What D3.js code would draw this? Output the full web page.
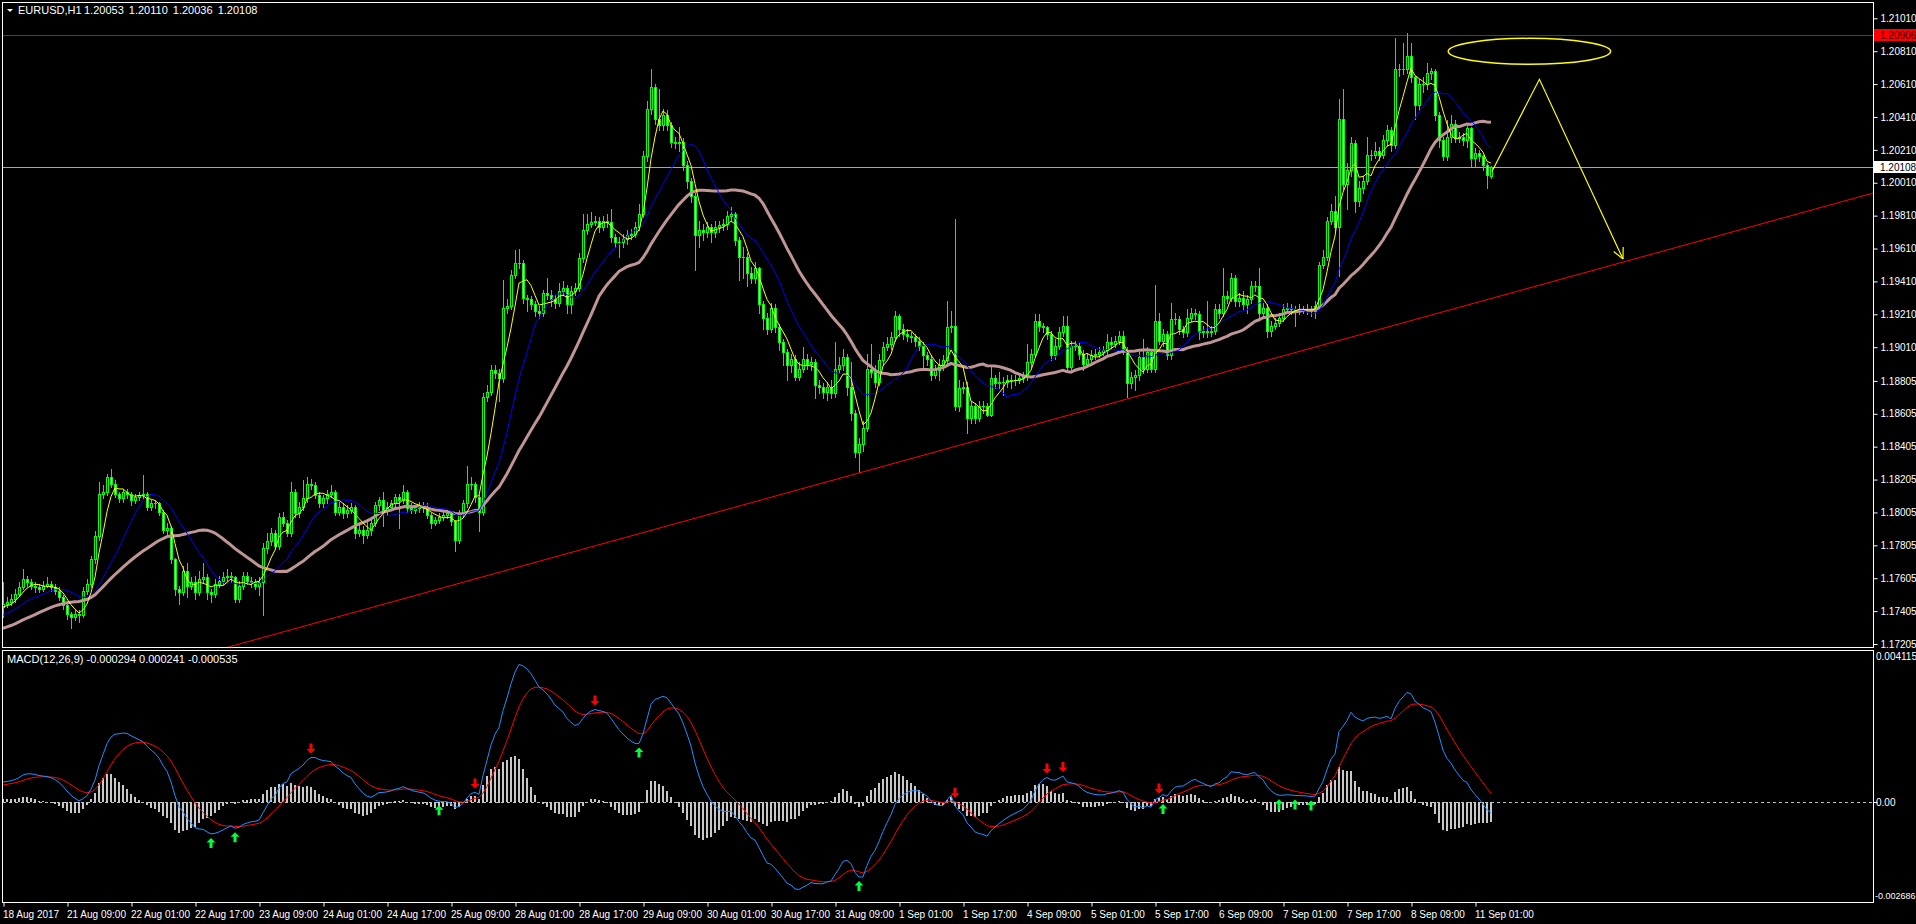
<!DOCTYPE html>
<html><head><meta charset="utf-8">
<script src="https://cdn.jsdelivr.net/npm/d3@7"></script>
<style>
body{margin:0;background:#000;overflow:hidden}
svg{display:block}
text{font-family:'Liberation Sans',Arial,sans-serif;font-size:10px;fill:#fff}
</style></head><body>
<svg id="c" width="1916" height="924"></svg>
<script>
// ---------- DATA (prices in pips above BASE) ----------
const BASE = 1.17, PIP = 0.0001;
const symbolTitle = "EURUSD,H1";
const headerOHLC = [1.20053, 1.20110, 1.20036, 1.20108];
const macdHeader = "MACD(12,26,9) -0.000294 0.000241 -0.000535";
const priceTicks = [1.21010,1.20810,1.20610,1.20410,1.20210,1.20010,1.19810,1.19610,1.19410,1.19210,1.19010,1.18805,1.18605,1.18405,1.18205,1.18005,1.17805,1.17605,1.17405,1.17205];
const macdTicks = [0.004115, 0.00, -0.002686];
const macdTickLabels = ["0.004115", "0.00", "-0.002686"];
const timeTickBars = [0,16,32,48,64,80,96,112,128,144,160,176,192,208,224,240,256,272,288,304,320,336,352,368];
const timeLabels = ["18 Aug 2017","21 Aug 09:00","22 Aug 01:00","22 Aug 17:00","23 Aug 09:00","24 Aug 01:00","24 Aug 17:00","25 Aug 09:00","28 Aug 01:00","28 Aug 17:00","29 Aug 09:00","30 Aug 01:00","30 Aug 17:00","31 Aug 09:00","1 Sep 01:00","1 Sep 17:00","4 Sep 09:00","5 Sep 01:00","5 Sep 17:00","6 Sep 09:00","7 Sep 01:00","7 Sep 17:00","8 Sep 09:00","11 Sep 01:00"];

// closes of the 29 bars before the visible window (needed for the moving averages)
const preCloses = [20,22,19,21,24,23,25,22,20,23,26,24,25,27,24,23,28,31,33,35,34,37,38,40,41,42,44,41,43];

const opens = [
43,45,46,48,51,55,60,58,56,55, 54,56,57,55,53,49,44,39,37,39, 38,53,57,72,86,112,113,122,118,112, 109,113,112,108,110,111,112,104,106,106,
101,90,91,72,54,52,65,56,58,52, 60,61,52,51,57,59,61,62,61,48, 56,62,59,58,56,58,79,83,88,80, 98,94,88,113,100,104,109,118,117,111,
106,109,112,113,101,104,100,102,104,88, 90,87,90,94,105,108,102,104,106,110, 108,113,103,102,103,104,104,99,94,96, 98,99,100,95,84,100,106,118,118,110,
101,171,174,187,185,182,225,226,245,252, 252,231,230,227,223,222,234,233,230,228, 235,237,227,235,237,255,272,276,277,278, 274,278,277,268,265,265,267,269,270,274,
282,317,346,359,340,336,342,336,326,325, 326,312,302,293,269,272,271,274,271,274, 275,276,281,282,266,256,256,246,243,249, 227,219,212,225,213,204,198,190,194,183,
188,194,191,192,178,177,174,177,173,188, 190,195,177,161,137,142,152,188,186,180, 193,201,203,207,220,212,209,208,207,205, 202,196,194,184,187,190,193,213,214,165,
176,177,158,165,158,165,165,160,182,179, 180,180,181,181,181,182,183,192,197,217, 214,213,209,196,202,210,214,189,202,202, 197,191,194,196,197,198,199,204,203,205,
208,199,179,183,184,195,188,198,188,217, 205,209,196,218,218,212,210,219,222,221, 210,211,210,211,224,222,232,231,243,229, 231,227,230,238,238,222,225,211,214,216,
219,224,225,224,223,224,224,224,223,226, 251,256,278,284,274,340,300,309,325,290, 298,302,318,318,320,318,327,333,324,370, 370,370,378,365,348,361,361,368,369,342,
327,317,329,337,328,329,327,334,316,319, 317,312,305.3];
const highs = [
58,49,51,54,58,66,62,60,58,57, 59,61,59,57,55,50,45,40,42,41, 55,60,74,89,119,117,124,127,120,113, 115,115,113,112,113,123,113,108,108,107,
102,94,92,73,56,68,70,61,62,65, 70,63,54,60,62,64,66,64,62,59, 64,64,61,60,61,82,88,91,90,100, 101,96,119,115,107,120,122,121,119,113,
111,114,117,114,107,106,105,106,105,93, 92,95,96,107,110,113,107,108,112,112, 117,114,106,105,107,107,106,100,98,100, 101,102,101,96,102,108,129,122,119,111,
173,178,190,190,188,242,230,248,260,261, 254,233,232,229,226,236,243,236,233,240, 241,239,238,240,258,282,282,283,281,280, 281,282,285,270,268,270,272,273,277,288,
320,351,370,361,358,346,345,338,329,335, 328,314,304,295,278,276,277,276,278,278, 279,284,286,283,268,262,258,250,253,250, 229,222,228,227,215,206,200,197,196,192,
201,197,195,194,181,179,180,181,204,195, 200,197,192,163,146,156,197,203,190,197, 204,207,210,223,221,215,212,210,209,207, 204,198,196,190,194,196,229,223,279,181,
180,180,168,167,168,168,167,189,184,186, 183,184,184,184,185,186,203,200,221,221, 216,214,211,206,213,220,220,205,205,204, 199,197,199,200,201,202,209,207,208,211,
211,201,186,187,198,206,201,200,239,222, 212,211,228,222,220,214,224,225,224,223, 214,229,214,227,227,249,235,246,245,234, 235,233,241,241,249,228,227,217,219,222,
227,228,227,226,227,226,227,226,229,253, 260,280,288,293,352,358,313,329,327,302, 305,329,321,326,323,330,336,335,389,373, 386,392,386,366,364,365,374,371,370,344,
329,339,342,339,332,331,337,335,322,321, 318,313,311];
const lows = [
37,43,44,46,50,54,56,54,52,52, 53,55,53,51,47,42,36,30,35,34, 37,51,55,70,84,109,111,116,110,107, 107,109,105,106,108,109,102,102,103,99,
88,87,70,50,45,50,49,54,48,50, 58,48,46,49,55,57,59,58,46,46, 54,57,55,54,50,38,76,81,78,78, 92,86,86,98,98,102,107,115,109,104,
104,106,110,99,99,97,98,100,85,86, 82,85,87,92,102,92,99,102,104,91, 106,101,100,100,101,101,97,91,93,94, 96,97,93,77,82,98,104,115,107,89,
99,168,172,182,168,180,222,224,243,249, 228,223,224,220,219,220,230,226,225,226, 233,222,222,233,235,253,270,274,275,271, 272,274,265,262,256,262,264,267,268,272,
280,314,343,337,333,333,333,323,322,320, 309,298,289,248,262,266,268,265,268,271, 272,273,278,263,242,243,238,240,240,222, 212,209,210,210,199,190,181,186,181,181,
186,188,187,170,173,170,169,170,171,185, 187,172,157,134,125,138,150,183,177,178, 190,199,200,205,208,206,205,204,202,199, 189,190,181,182,181,187,191,210,163,162,
173,149,155,155,156,161,159,159,176,176, 172,177,176,178,179,180,181,189,195,211, 210,206,193,194,200,208,187,187,199,194, 187,189,192,194,195,196,197,200,201,203,
197,171,176,175,181,185,186,186,186,203, 202,194,194,215,209,207,208,217,218,206, 207,207,208,209,219,220,228,229,226,226, 224,222,228,235,219,219,207,208,212,214,
217,222,221,214,221,222,221,220,219,224, 249,254,276,271,244,297,285,305,283,287, 295,300,315,316,315,316,324,320,322,366, 367,368,362,340,345,356,358,364,339,323,
315,315,326,326,326,324,323,311,311,314, 309,298,303.6];
const closes = [
45,46,48,51,55,60,58,56,55,54, 56,57,55,53,49,44,39,37,39,38, 53,57,72,86,112,113,122,118,112,109, 113,112,108,110,111,112,104,106,106,101,
90,91,72,54,52,65,56,58,52,60, 61,52,51,57,59,61,62,61,48,56, 62,59,58,56,58,79,83,88,80,98, 94,88,113,100,104,109,118,117,111,106,
109,112,113,101,104,100,102,104,88,90, 87,90,94,105,108,102,104,106,110,108, 113,103,102,103,104,104,99,94,96,98, 99,100,95,84,100,106,118,118,110,101,
171,174,187,185,182,225,226,245,252,252, 231,230,227,223,222,234,233,230,228,235, 237,227,235,237,255,272,276,277,278,274, 278,277,268,265,265,267,269,270,274,282,
317,346,359,340,336,342,336,326,325,326, 312,302,293,269,272,271,274,271,274,275, 276,281,282,266,256,256,246,243,249,227, 219,212,225,213,204,198,190,194,183,188,
194,191,192,178,177,174,177,173,188,190, 195,177,161,137,142,152,188,186,180,193, 201,203,207,220,212,209,208,207,205,202, 196,194,184,187,190,193,213,214,165,176,
177,158,165,158,165,165,160,182,179,180, 180,181,181,181,182,183,192,197,217,214, 213,209,196,202,210,214,189,202,202,197, 191,194,196,197,198,199,204,203,205,208,
199,179,183,184,195,188,198,188,217,205, 209,196,218,218,212,210,219,222,221,210, 211,210,211,224,222,232,231,243,229,231, 227,230,238,238,222,225,211,214,216,219,
224,225,224,223,224,224,224,223,226,251, 256,278,284,274,340,300,309,325,290,298, 302,318,318,320,318,327,333,324,370,370, 370,378,365,348,361,361,368,369,342,327,
317,329,337,328,329,327,334,316,319,317, 312,306,310.8];

// MACD cross arrows (bar index)
const upArrowBars = [52,58,109,159,214,290,319,323,327];
const downArrowBars = [77,118,148,238,261,265,289];

// drawn objects: horizontal line, trend line, ellipse and projection path (bar index, price)
const hLinePrice = 1.20906;
const trendAnchors = [[71.75, 1.17290],[374.25, 1.19321]];
const ellipseCenter = [381.6, 1.20809], ellipseRadiusBars = 20.3, ellipseRadiusPips = 7.9;
const projection = [[372.2, 1.20077],[384.1, 1.20639],[405, 1.19546]];

// ---------- LAYOUT ----------
const svg = d3.select('#c');
const RIGHT = 1873, MAIN_T = 2, MAIN_B = 647, MACD_T = 650, MACD_B = 902;
const x = d3.scaleLinear().domain([0, 372]).range([3, 1491]);
const y = d3.scaleLinear().domain([1.21010, 1.17205]).range([18.3, 644]);
const ym = d3.scaleLinear().domain([0.004115, -0.002686]).range([652, 900]);
const P = v => BASE + v * PIP;

svg.append('rect').attr('width',1916).attr('height',924).attr('fill','#000');
const defs = svg.append('defs');
defs.append('clipPath').attr('id','cm').append('rect').attr('x',3).attr('y',MAIN_T+1).attr('width',RIGHT-3).attr('height',MAIN_B-MAIN_T-1);
defs.append('clipPath').attr('id','cd').append('rect').attr('x',3).attr('y',MACD_T+1).attr('width',RIGHT-3).attr('height',MACD_B-MACD_T-1);

const gMain = svg.append('g').attr('clip-path','url(#cm)');
const gMacd = svg.append('g').attr('clip-path','url(#cd)');

// indicators
const all = preCloses.concat(closes), N0 = preCloses.length;
function sma(n){ return closes.map((_,i)=>{ const j=i+N0; let s=0,c=0; for(let k=Math.max(0,j-n+1);k<=j;k++){s+=all[k];c++;} return s/c; }); }
function ema(arr,n){ const a=2/(n+1); let e=arr[0]; return arr.map((v,i)=> (e = i===0 ? v : e + a*(v-e))); }
const ma5 = sma(5), ma14 = sma(14), ma30 = sma(30);
const e12 = ema(all,12), e26 = ema(all,26);
const macdAll = e12.map((v,i)=>(v-e26[i])*PIP);
const sigAll = ema(macdAll,9);
const macd = macdAll.slice(N0), signal = sigAll.slice(N0);
const hist = macd.map((v,i)=>v-signal[i]);

// bid line & horizontal line
gMain.append('line').attr('x1',3).attr('x2',RIGHT).attr('y1',Math.round(y(headerOHLC[3]))+0.5).attr('y2',Math.round(y(headerOHLC[3]))+0.5).attr('stroke','#a0a8b0');
gMain.append('line').attr('x1',3).attr('x2',RIGHT).attr('y1',Math.round(y(hLinePrice))+0.5).attr('y2',Math.round(y(hLinePrice))+0.5).attr('stroke','#e00000');

// candles
const gC = gMain.append('g').attr('shape-rendering','crispEdges');
closes.forEach((c,i)=>{
  const cx = Math.round(x(i));
  const o = opens[i];
  const yh = Math.round(y(P(highs[i]))), yl = Math.round(y(P(lows[i])));
  gC.append('rect').attr('x',cx).attr('y',yh).attr('width',1).attr('height',Math.max(1,yl-yh+1)).attr('fill','#00ff00');
  const yt = Math.round(y(P(Math.max(o,c)))), yb = Math.round(y(P(Math.min(o,c))));
  const h = Math.max(1, yb-yt+1);
  gC.append('rect').attr('x',cx-1).attr('y',yt).attr('width',3).attr('height',h).attr('fill','#00ff00');
  if(h>2) gC.append('rect').attr('x',cx).attr('y',yt+1).attr('width',1).attr('height',h-2).attr('fill', c>=o ? '#000' : '#fff');
});

// moving averages
const lineP = d3.line().x((d,i)=>x(i)).y(d=>y(P(d)));
gMain.append('path').attr('d',lineP(ma30)).attr('fill','none').attr('stroke','#bf9595').attr('stroke-width',3);
gMain.append('path').attr('d',lineP(ma14)).attr('fill','none').attr('stroke','#0000ff').attr('stroke-width',1);
gMain.append('path').attr('d',lineP(ma5)).attr('fill','none').attr('stroke','#ffff00').attr('stroke-width',1);

// trend line (ray)
const slope = (trendAnchors[1][1]-trendAnchors[0][1])/(trendAnchors[1][0]-trendAnchors[0][0]);
const tAt = b => trendAnchors[0][1] + slope*(b-trendAnchors[0][0]);
const bEnd = x.invert(RIGHT);
gMain.append('line').attr('x1',x(0)).attr('y1',y(tAt(0))).attr('x2',x(bEnd)).attr('y2',y(tAt(bEnd))).attr('stroke','#ff0000').attr('stroke-width',1);

// ellipse and projection
gMain.append('ellipse').attr('cx',x(ellipseCenter[0])).attr('cy',y(ellipseCenter[1]))
  .attr('rx',x(ellipseRadiusBars)-x(0)).attr('ry',y(0)-y(ellipseRadiusPips*PIP))
  .attr('fill','none').attr('stroke','#ffff00').attr('stroke-width',1.5);
const projLine = d3.line().x(d=>x(d[0])).y(d=>y(d[1]));
gMain.append('path').attr('d',projLine(projection)).attr('fill','none').attr('stroke','#ffff00').attr('stroke-width',1.2);
{
  const a = projection[1], b = projection[2];
  const x1=x(a[0]),y1=y(a[1]),x2=x(b[0]),y2=y(b[1]);
  const ang = Math.atan2(y2-y1,x2-x1);
  [0.45,-0.45].forEach(d=>{
    gMain.append('line').attr('x1',x2).attr('y1',y2).attr('x2',x2-12*Math.cos(ang+d)).attr('y2',y2-12*Math.sin(ang+d)).attr('stroke','#ffff00').attr('stroke-width',1.2);
  });
}

// MACD panel
const gH = gMacd.append('g').attr('shape-rendering','crispEdges');
hist.forEach((v,i)=>{
  const cx = Math.round(x(i)); const y0 = ym(0), y1 = ym(v);
  gH.append('rect').attr('x',cx-1).attr('y',Math.round(Math.min(y0,y1))).attr('width',2).attr('height',Math.max(1,Math.round(Math.abs(y1-y0)))).attr('fill','#c8c8c8');
});
gMacd.append('line').attr('x1',3).attr('x2',RIGHT).attr('y1',Math.round(ym(0))+0.5).attr('y2',Math.round(ym(0))+0.5).attr('stroke','#c0c0c0').attr('stroke-dasharray','3,3');
const lineM = d3.line().x((d,i)=>x(i)).y(d=>ym(d));
gMacd.append('path').attr('d',lineM(signal)).attr('fill','none').attr('stroke','#ff0000').attr('stroke-width',1);
gMacd.append('path').attr('d',lineM(macd)).attr('fill','none').attr('stroke','#1e90ff').attr('stroke-width',1);
const arrowUp = 'M0,-5L4.5,-0.5L1.5,-0.5L1.5,5L-1.5,5L-1.5,-0.5L-4.5,-0.5Z';
upArrowBars.forEach(b=>{
  gMacd.append('path').attr('d',arrowUp).attr('fill','#00ff40').attr('transform',`translate(${x(b)},${ym(Math.min(macd[b],signal[b]))+9})`);
});
downArrowBars.forEach(b=>{
  gMacd.append('path').attr('d',arrowUp).attr('fill','#ff0000').attr('transform',`translate(${x(b)},${ym(Math.max(macd[b],signal[b]))-9}) rotate(180)`);
});

// frames
svg.append('rect').attr('x',2.5).attr('y',MAIN_T+0.5).attr('width',RIGHT-2).attr('height',MAIN_B-MAIN_T).attr('fill','none').attr('stroke','#fff');
svg.append('rect').attr('x',2.5).attr('y',MACD_T+0.5).attr('width',RIGHT-2).attr('height',MACD_B-MACD_T).attr('fill','none').attr('stroke','#fff');

// price axis
const ax = svg.append('g').attr('transform',`translate(${RIGHT+0.5},0)`)
  .call(d3.axisRight(y).tickValues(priceTicks).tickSize(4).tickPadding(3).tickFormat(d3.format('.5f')));
ax.select('.domain').remove();
ax.selectAll('line').attr('stroke','#fff');
ax.selectAll('text').attr('fill','#fff').style('font-size','10px');

// price labels on the axis
function priceTag(price, bg, fg){
  const yy = Math.round(y(price));
  svg.append('rect').attr('x',RIGHT+1).attr('y',yy-6).attr('width',42).attr('height',12).attr('fill',bg);
  svg.append('text').attr('x',RIGHT+7).attr('y',yy+4).text(d3.format('.5f')(price)).attr('fill',fg).style('fill',fg);
}
priceTag(hLinePrice,'#ff0000','#400000');
priceTag(headerOHLC[3],'#ffffff','#000000');

// MACD axis
const axm = svg.append('g').attr('transform',`translate(${RIGHT+0.5},0)`)
  .call(d3.axisRight(ym).tickValues([0]).tickSize(4).tickPadding(3).tickFormat(()=>''));
axm.select('.domain').remove();
axm.selectAll('line').attr('stroke','#fff');
svg.append('text').attr('x',RIGHT+3).attr('y',ym(macdTicks[0])+8).text(macdTickLabels[0]);
svg.append('text').attr('x',RIGHT+3).attr('y',ym(macdTicks[1])+4).text(macdTickLabels[1]);
svg.append('text').attr('x',RIGHT+2).attr('y',ym(macdTicks[2])-1).text(macdTickLabels[2]).style('font-size','9px');

// time axis
const tx = svg.append('g').attr('transform',`translate(0.5,${MACD_B+0.5})`)
  .call(d3.axisBottom(x).tickValues(timeTickBars).tickSize(4).tickFormat((d,i)=>timeLabels[i]));
tx.select('.domain').remove();
tx.selectAll('line').attr('stroke','#fff');
tx.selectAll('text').attr('fill','#fff').attr('text-anchor','start').attr('dx',-1).attr('y',8).style('font-size','10px');

// headers
svg.append('path').attr('d','M7,9L13,9L10,12Z').attr('fill','#fff');
svg.append('text').attr('x',18).attr('y',14).style('font-size','11px').text(symbolTitle);
svg.append('text').attr('x',84).attr('y',14).style('font-size','11px').attr('word-spacing','2px').text(headerOHLC.map(d3.format('.5f')).join(' '));
svg.append('text').attr('x',7).attr('y',663).style('font-size','11px').text(macdHeader);
</script>
</body></html>
